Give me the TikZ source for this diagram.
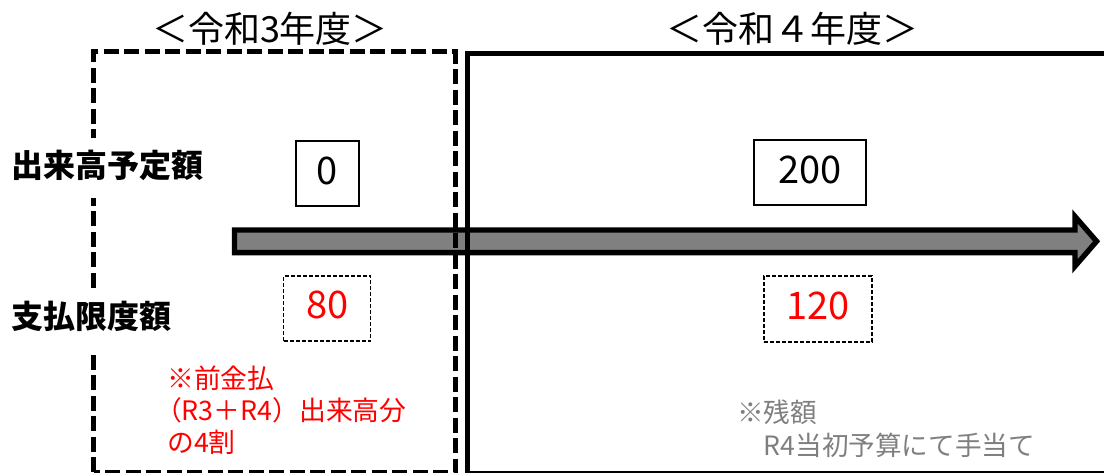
\documentclass[tikz,border=0pt]{standalone}
\usepackage{fontspec}
\setmainfont{Noto Sans CJK JP}
\definecolor{arrowgray}{RGB}{128,128,128}
\definecolor{notegray}{RGB}{127,127,127}
\definecolor{notered}{RGB}{255,0,0}
\begin{document}
\begin{tikzpicture}[x=1pt,y=-1pt,
  title/.style={font=\fontsize{36}{42}\selectfont, inner sep=0},
  rowlabel/.style={font=\fontsize{32}{38}\selectfont\bfseries, fill=white, anchor=west, inner xsep=6pt, inner ysep=0pt, minimum height=60pt, text height=27pt},
  valbox/.style={draw=black, line width=1.3pt, font=\fontsize{38}{44}\selectfont, text height=28pt, text depth=7pt, inner sep=0},
  limitbox/.style={draw=black, line width=1.2pt, dash pattern=on 4pt off 2pt, text=notered, font=\fontsize{38}{44}\selectfont, text height=28pt, text depth=8pt, inner sep=0},
  yearframe/.style={draw=black, line width=5pt},
  timeline/.style={draw=black, fill=arrowgray, line width=5.3pt, miter limit=10},
  note/.style={align=left, inner sep=0, anchor=north west},
]
\useasboundingbox (0,0) rectangle (1104,472);
\clip (0,0) rectangle (1104,472);

% timeline arrow
\draw[timeline] (234.4,230) -- (1075,230) -- (1075,216.5) -- (1096.6,241.3)
  -- (1075,266.2) -- (1075,252.6) -- (234.4,252.6) -- cycle;

% year frames
\draw[yearframe, dash pattern=on 15pt off 5.5pt] (93.5,472) rectangle (455,51.5);
\draw[yearframe] (467.5,473.5) rectangle (1112,53);

% titles
\node[title] (t3) at (270,29) {＜令和3年度＞};
\node[title] (t4) at (792,29) {＜令和４年度＞};

% row labels
\node[rowlabel, text depth=9pt] (l1) at (5,168) {出来高予定額};
\node[rowlabel, text depth=14pt] (l2) at (5,322) {支払限度額};

% values
\node[valbox, minimum width=63pt, minimum height=65pt] (v0) at (327.5,173.5) {0};
\node[valbox, minimum width=112pt, minimum height=65pt] (v200) at (810,172.5) {200};
\node[limitbox, minimum width=87pt, minimum height=65pt] (p80) at (327.3,308.5) {80};
\node[limitbox, minimum width=108pt, minimum height=66pt] (p120) at (818,309) {120};

% notes
\node[note, text=notered, font=\fontsize{26.8}{32}\selectfont] (n1) at (167,366)
  {※前金払\\\hspace*{-0.45em}（R3＋R4）出来高分\\の4割};
\node[note, text=notegray, font=\fontsize{26.6}{33}\selectfont] (n2) at (737,400)
  {※残額\\　R4当初予算にて手当て};
\end{tikzpicture}
\end{document}
